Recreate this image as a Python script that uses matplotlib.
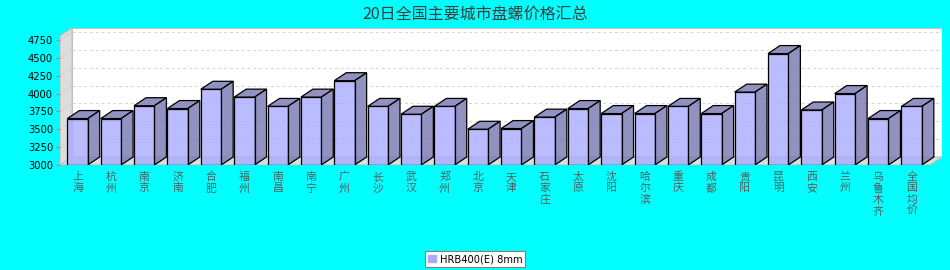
import numpy as np
import matplotlib
matplotlib.use('Agg')
import matplotlib.pyplot as plt
from matplotlib.patches import Polygon, Rectangle, Patch
from matplotlib.colors import to_rgba

plt.rcParams['font.family'] = ['Noto Sans CJK SC', 'DejaVu Sans']

# --- 数据 ---
title = '20日全国主要城市盘螺价格汇总'
series_name = 'HRB400(E) 8mm'
cities = ['上海', '杭州', '南京', '济南', '合肥', '福州', '南昌', '南宁', '广州',
          '长沙', '武汉', '郑州', '北京', '天津', '石家庄', '太原', '沈阳', '哈尔滨',
          '重庆', '成都', '贵阳', '昆明', '西安', '兰州', '乌鲁木齐', '全国均价']
prices = [3650, 3650, 3830, 3790, 4060, 3950, 3820, 3950, 4180,
          3820, 3710, 3820, 3500, 3510, 3670, 3790, 3720, 3720,
          3820, 3720, 4020, 4560, 3770, 4000, 3650, 3820]
yticks = [3000, 3250, 3500, 3750, 4000, 4250, 4500, 4750]

# --- 3D 效果参数 ---
base, ytop = 3000, 4918
dx, dy = 0.36, 112          # 深度偏移（数据单位）
bar_w = 0.61
xl, xr = -0.525, 25.55

front_c = to_rgba('#aaaaff', 0.8)
side_c = to_rgba('#7777b2', 0.8)
wall_c = '#dddddd'
wall_ec = '#c0c0c0'

fig = plt.figure(figsize=(9.5, 2.7), dpi=100, facecolor='#00ffff')
ax = fig.add_axes([60 / 950, 105 / 270, 882 / 950, 137 / 270])
ax.set_xlim(xl, xr + dx)
ax.set_ylim(base, ytop)
ax.set_facecolor('none')
for s in ax.spines.values():
    s.set_visible(False)

# 背景墙、左墙、地板
ax.add_patch(Rectangle((xl + dx, base + dy), xr - xl, ytop - base - dy,
                       fc='white', ec=wall_ec, lw=0.8, zorder=0.5))
ax.add_patch(Polygon([(xl, base), (xl + dx, base + dy), (xl + dx, ytop), (xl, ytop - dy)],
                     closed=True, fc=wall_c, ec=wall_ec, lw=0.8, zorder=0.6))
ax.add_patch(Polygon([(xl, base), (xr, base), (xr + dx, base + dy), (xl + dx, base + dy)],
                     closed=True, fc=wall_c, ec=wall_ec, lw=0.8, zorder=0.6))

# 网格线
for v in yticks[1:]:
    ax.plot([xl + dx, xr + dx], [v + dy, v + dy], ls=(0, (3, 3)), color='#d4d4d4', lw=0.7, zorder=0.7)
    ax.plot([xl, xl + dx], [v, v + dy], color='#cfcfcf', lw=0.6, zorder=0.7)

# 柱子
x = np.arange(len(cities))
ax.bar(x, np.array(prices) - base, bottom=base, width=bar_w, color=front_c,
       edgecolor='black', lw=0.9, zorder=2.1)
for i, v in zip(x, prices):
    x0, x1 = i - bar_w / 2, i + bar_w / 2
    ax.add_patch(Polygon([(x0, v), (x1, v), (x1 + dx, v + dy), (x0 + dx, v + dy)],
                         closed=True, fc=side_c, ec='black', lw=0.9, zorder=2))
    ax.add_patch(Polygon([(x1, base), (x1, v), (x1 + dx, v + dy), (x1 + dx, base + dy)],
                         closed=True, fc=side_c, ec='black', lw=0.9, zorder=2))

# 坐标轴
ax.set_yticks(yticks)
ax.set_yticklabels([str(v) for v in yticks], family='DejaVu Sans')
ax.tick_params(axis='y', length=3, width=0.8, color='#c08080', labelsize=7.2, pad=2)
ax.set_xticks(x)
ax.set_xticklabels(['\n'.join(c) for c in cities])
ax.tick_params(axis='x', length=0, pad=5, labelsize=7.8, labelcolor='#5a5a5a')
for lbl in ax.get_xticklabels():
    lbl.set_linespacing(1.15)

fig.text(0.5, 1 - 14 / 270, title, ha='center', va='center', fontsize=11.5, color='#3a3a3a')

leg = fig.legend(handles=[Patch(fc='#aaaaff', ec='#aaaaff', label=series_name)],
                 loc='center', bbox_to_anchor=(475 / 950, 11 / 270), frameon=True,
                 fancybox=False, edgecolor='#808080', framealpha=1,
                 prop={'family': 'DejaVu Sans', 'size': 7.1},
                 handlelength=0.8, handleheight=0.8, handletextpad=0.4, borderpad=0.3)
leg.get_frame().set_linewidth(0.8)

fig.savefig('out.png', dpi=100, facecolor=fig.get_facecolor())
